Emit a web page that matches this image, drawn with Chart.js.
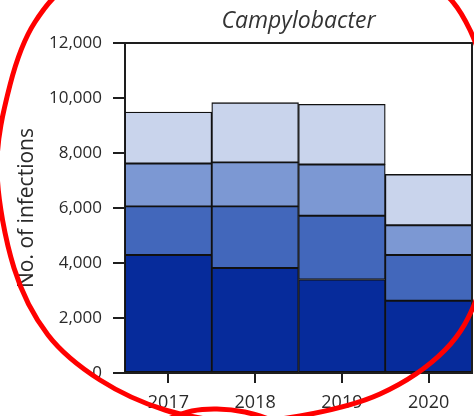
<!DOCTYPE html>
<html>
<head>
<meta charset="utf-8">
<script src="https://cdn.jsdelivr.net/npm/chart.js@4/dist/chart.umd.min.js"></script>
<style>
  html, body { margin: 0; padding: 0; background: #fff; }
  #chart { display: block; }
</style>
</head>
<body>
<canvas id="chart" width="474" height="416"></canvas>
<script>
// values (infections per year, stacked from bottom)
const years = ['2017', '2018', '2019', '2020'];
const band1 = [4290, 3820, 3400, 2630];   // darkest, bottom
const band2 = [1770, 2240, 2320, 1660];
const band3 = [1560, 1600, 1860, 1080];
const band4 = [1870, 2170, 2190, 1850];   // lightest, top
const bandColors = ['#062b9b', '#4267bb', '#7c98d3', '#c9d4ec'];
const yTicks = [0, 2000, 4000, 6000, 8000, 10000, 12000];

const textColor = '#2a2a2a';
const lineColor = '#1e1e1e';

// closes the box: top and right edges of the plot
const framePlugin = {
    id: 'frame',
    afterDatasetsDraw(chart) {
        const { ctx, chartArea: a } = chart;
        ctx.save();
        ctx.strokeStyle = lineColor;
        ctx.lineWidth = 2;
        ctx.beginPath();
        ctx.moveTo(a.left, a.top);
        ctx.lineTo(a.right, a.top);
        ctx.lineTo(a.right, a.bottom);
        ctx.stroke();
        ctx.restore();
    }
};

// the hand drawn red ring over the figure
function smoothPath(ctx, pts, closed) {
    const n = pts.length;
    const at = i => closed ? pts[(i + n) % n] : pts[Math.max(0, Math.min(n - 1, i))];
    ctx.moveTo(pts[0][0], pts[0][1]);
    const last = closed ? n : n - 1;
    for (let i = 0; i < last; i++) {
        const p0 = at(i - 1), p1 = at(i), p2 = at(i + 1), p3 = at(i + 2);
        ctx.bezierCurveTo(
            p1[0] + (p2[0] - p0[0]) / 6, p1[1] + (p2[1] - p0[1]) / 6,
            p2[0] - (p3[0] - p1[0]) / 6, p2[1] - (p3[1] - p1[1]) / 6,
            p2[0], p2[1]);
    }
}
const ringPoints = [
    [250, -55], [340, -45], [428, -18], [470, 30], [494, 120], [494, 220],
    [478, 295], [445, 350], [380, 394], [300, 416], [230, 421], [165, 410],
    [100, 380], [48, 335], [14, 268], [-3, 170], [10, 85],
    [35, 22], [78, -20], [160, -42]
];
const ringTail = [[165, 420], [192, 411], [217, 409], [245, 412], [272, 420]];
const ringPlugin = {
    id: 'ring',
    afterDraw(chart) {
        const ctx = chart.ctx;
        ctx.save();
        ctx.strokeStyle = '#ff0000';
        ctx.lineWidth = 5;
        ctx.lineJoin = 'round';
        ctx.lineCap = 'round';
        ctx.beginPath();
        smoothPath(ctx, ringPoints, true);
        ctx.stroke();
        ctx.beginPath();
        smoothPath(ctx, ringTail, false);
        ctx.stroke();
        ctx.restore();
    }
};

const bands = [band1, band2, band3, band4];
const datasets = bands.map((vals, i) => ({
    label: 'Band ' + (i + 1),
    data: vals,
    xAxisID: 'x',
    yAxisID: 'y',
    backgroundColor: bandColors[i],
    borderColor: '#111',
    borderWidth: 1.3,
    borderSkipped: false,
    barPercentage: 1,
    categoryPercentage: 1
}));

new Chart(document.getElementById('chart'), {
    type: 'bar',
    data: { labels: years, datasets: datasets },
    options: {
        responsive: false,
        animation: false,
        layout: { padding: { left: 0, right: 2, top: 0, bottom: 0 } },
        plugins: {
            legend: { display: false },
            tooltip: { enabled: false }
        },
        scales: {
            x: {
                stacked: true,
                afterFit: s => { s.height = 43; },
                grid: {
                    offset: false,
                    drawOnChartArea: false,
                    tickLength: 10,
                    color: lineColor,
                    lineWidth: 2
                },
                border: { color: lineColor, width: 2 },
                ticks: {
                    color: textColor,
                    padding: 9,
                    font: { family: 'Open Sans', size: 18 }
                }
            },
            // top axis only carries the panel title, centred over the plot
            top: {
                position: 'top',
                type: 'category',
                afterFit: s => { s.height = 43; },
                grid: { display: false },
                border: { display: false },
                ticks: { display: false },
                title: {
                    display: true,
                    text: 'Campylobacter',
                    color: '#333',
                    font: { family: 'Open Sans', size: 23, style: 'italic' },
                    padding: { top: 8, bottom: 0 }
                }
            },
            y: {
                stacked: true,
                min: 0,
                max: 12000,
                afterFit: s => { s.width = 125; },
                afterBuildTicks: s => { s.ticks = yTicks.map(v => ({ value: v })); },
                grid: {
                    drawOnChartArea: false,
                    tickLength: 12,
                    color: lineColor,
                    lineWidth: 2
                },
                border: { color: lineColor, width: 2 },
                ticks: {
                    color: textColor,
                    padding: 11,
                    font: { family: 'Open Sans', size: 17 },
                    callback: v => v.toLocaleString('en-US')
                },
                title: {
                    display: true,
                    text: 'No. of infections',
                    color: textColor,
                    font: { family: 'Open Sans', size: 21 },
                    padding: { top: 14, bottom: 0 }
                }
            }
        }
    },
    plugins: [framePlugin, ringPlugin]
});
</script>
</body>
</html>
